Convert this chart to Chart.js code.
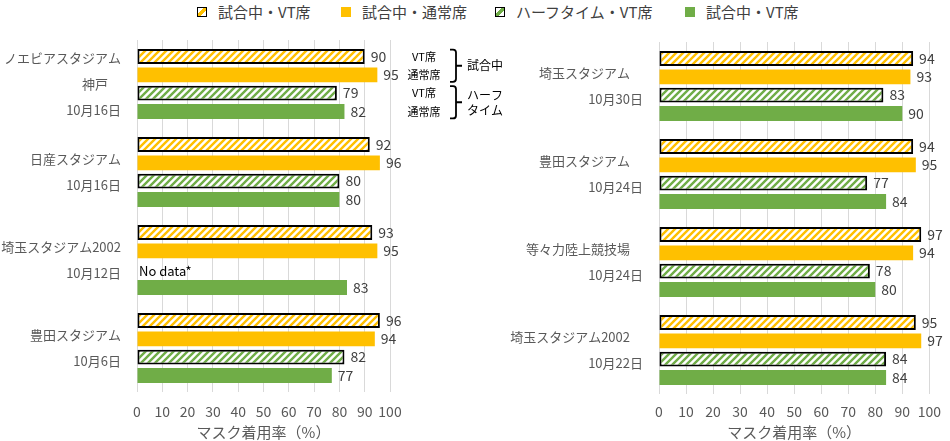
<!DOCTYPE html>
<html>
<head>
<meta charset="utf-8">
<script src="https://cdn.jsdelivr.net/npm/chart.js@4.4.1/dist/chart.umd.min.js"></script>
<style>
body { margin: 0; background: #fff; }
#wrap { position: relative; width: 950px; height: 441px; background: #fff; overflow: hidden; }
.lg { position: absolute; top: 2px; height: 20px; font: 15px "Noto Sans CJK JP", "Noto Sans", sans-serif; color: #404040; white-space: nowrap; line-height: 20px; }
.lg i { position: absolute; left: 0; top: 5px; width: 10px; height: 10px; box-sizing: border-box; }
.lg span { position: absolute; left: 21px; top: 0; }
</style>
</head>
<body>
<div id="wrap">
  <div class="lg" style="left:197px"><i style="border:1.5px solid #000;background:linear-gradient(135deg,#fff 32%,#FFC000 32%,#FFC000 68%,#fff 68%)"></i><span>試合中・VT席</span></div>
  <div class="lg" style="left:341px"><i style="background:#FFC000"></i><span>試合中・通常席</span></div>
  <div class="lg" style="left:495px"><i style="border:1.5px solid #000;background:linear-gradient(135deg,#fff 32%,#70AD47 32%,#70AD47 68%,#fff 68%)"></i><span>ハーフタイム・VT席</span></div>
  <div class="lg" style="left:685px"><i style="background:#70AD47"></i><span>試合中・VT席</span></div>
  <canvas id="left" width="505" height="441" style="position:absolute;left:0;top:0"></canvas>
  <canvas id="right" width="445" height="441" style="position:absolute;left:505px;top:0"></canvas>
</div>
<script>
// left panel
var leftLabels = [['ノエビアスタジアム', '神戸　', '10月16日'], ['日産スタジアム', '10月16日'], ['埼玉スタジアム2002', '10月12日'], ['豊田スタジアム', '10月6日']];
var leftVtGame = [90, 92, 93, 96];
var leftRegGame = [95, 96, 95, 94];
var leftVtHalf = [79, 80, null, 82];
var leftRegHalf = [82, 80, 83, 77];

// right panel
var rightLabels = [['埼玉スタジアム　', '10月30日'], ['豊田スタジアム　', '10月24日'], ['等々力陸上競技場　', '10月24日'], ['埼玉スタジアム2002　', '10月22日']];
var rightVtGame = [94, 94, 97, 95];
var rightRegGame = [93, 95, 94, 97];
var rightVtHalf = [83, 77, 78, 84];
var rightRegHalf = [90, 84, 80, 84];

var seriesNames = ['試合中・VT席', '試合中・通常席', 'ハーフタイム・VT席', '試合中・VT席'];
var axisTitle = 'マスク着用率（%）';

var FONT = '"Noto Sans CJK JP", "Noto Sans", sans-serif';
Chart.defaults.font.family = FONT;
var YELLOW = '#FFC000';
var GREEN = '#70AD47';

function hatch(color) {
    var s = 7;
    var c = document.createElement('canvas');
    c.width = s; c.height = s;
    var x = c.getContext('2d');
    x.fillStyle = '#fff';
    x.fillRect(0, 0, s, s);
    x.strokeStyle = color;
    x.lineWidth = 2.4;
    x.beginPath();
    x.moveTo(-1, s + 1); x.lineTo(s + 1, -1);
    x.moveTo(-s - 1, s + 1); x.lineTo(1, -1);
    x.moveTo(-1, 2 * s + 1); x.lineTo(2 * s + 1, -1);
    x.stroke();
    return x.createPattern(c, 'repeat');
}

var valueLabels = {
    id: 'valueLabels',
    afterDatasetsDraw: function(chart) {
        var ctx = chart.ctx;
        ctx.save();
        ctx.textBaseline = 'middle';
        ctx.textAlign = 'left';
        chart.data.datasets.forEach(function(ds, i) {
            chart.getDatasetMeta(i).data.forEach(function(bar, j) {
                var v = ds.data[j];
                if (v === null) {
                    ctx.font = '13px ' + FONT;
                    ctx.fillStyle = '#000';
                    ctx.fillText('No data*', chart.scales.x.getPixelForValue(0) + 2, bar.y + 2);
                } else {
                    ctx.font = '14px ' + FONT;
                    ctx.fillStyle = '#404040';
                    ctx.fillText(v, bar.x + 6, bar.y);
                }
            });
        });
        ctx.restore();
    }
};

// 右側の凡例（VT席/通常席 と 試合中/ハーフタイム）
var seatNote = {
    id: 'seatNote',
    afterDraw: function(chart) {
        var ctx = chart.ctx;
        var ys = [0, 1, 2, 3].map(function(i) { return chart.getDatasetMeta(i).data[0].y; });
        ctx.save();
        ctx.fillStyle = '#000';
        ctx.textBaseline = 'middle';
        ctx.textAlign = 'center';
        ctx.font = '11px ' + FONT;
        ctx.fillText('VT席', 424, ys[0]);
        ctx.fillText('通常席', 424, ys[1]);
        ctx.fillText('VT席', 424, ys[2]);
        ctx.fillText('通常席', 424, ys[3]);
        ctx.strokeStyle = '#000';
        ctx.lineWidth = 1.8;
        function brace(y1, y2) {
            var m = (y1 + y2) / 2;
            ctx.beginPath();
            ctx.moveTo(450, y1);
            ctx.arcTo(456, y1, 456, y1 + 6, 3);
            ctx.lineTo(456, y2 - 3);
            ctx.arcTo(456, y2, 450, y2, 3);
            ctx.lineTo(450, y2);
            ctx.moveTo(456, m);
            ctx.lineTo(462, m);
            ctx.stroke();
            return m;
        }
        var m1 = brace(ys[0] - 7, ys[1] + 7);
        var m2 = brace(ys[2] - 7, ys[3] + 7);
        ctx.textAlign = 'left';
        ctx.font = '12px ' + FONT;
        ctx.fillText('試合中', 467, m1);
        ctx.fillText('ハーフ', 467, m2 - 7);
        ctx.fillText('タイム', 467, m2 + 8);
        ctx.restore();
    }
};

function makeChart(id, labels, vals, box, plugins) {
    var ctx = document.getElementById(id).getContext('2d');
    return new Chart(ctx, {
        type: 'bar',
        data: {
            labels: labels,
            datasets: [
                { label: seriesNames[0], data: vals[0], backgroundColor: hatch(YELLOW), borderColor: '#000', borderWidth: 2, borderSkipped: false },
                { label: seriesNames[1], data: vals[1], backgroundColor: YELLOW, borderWidth: 0 },
                { label: seriesNames[2], data: vals[2], backgroundColor: hatch(GREEN), borderColor: '#000', borderWidth: 2, borderSkipped: false },
                { label: seriesNames[3], data: vals[3], backgroundColor: GREEN, borderWidth: 0 }
            ]
        },
        options: {
            indexAxis: 'y',
            responsive: false,
            animation: false,
            categoryPercentage: 0.83,
            barPercentage: 0.82,
            layout: { padding: { top: box.top, right: box.right, bottom: 0, left: 0 } },
            plugins: {
                legend: { display: false },
                tooltip: { enabled: false }
            },
            scales: {
                x: {
                    min: 0,
                    max: 100,
                    ticks: { stepSize: 10, color: '#595959', font: { size: 14 }, padding: box.tickPad, maxRotation: 0, minRotation: 0, autoSkip: false },
                    grid: { color: '#D9D9D9', drawTicks: false },
                    border: { display: false },
                    title: { display: true, text: axisTitle, color: '#595959', font: { size: 15 }, padding: { top: 0, bottom: 0 } },
                    afterFit: function(scale) { scale.height = box.xh; }
                },
                y: {
                    ticks: { color: '#595959', font: { size: 13, lineHeight: 2 }, padding: 16, autoSkip: false },
                    grid: { display: false, drawTicks: false },
                    border: { display: false },
                    afterFit: function(scale) {
                        scale.width = box.yw;
                        scale.paddingTop = 0;
                        scale.paddingBottom = 0;
                    }
                }
            }
        },
        plugins: plugins
    });
}

makeChart('left', leftLabels, [leftVtGame, leftRegGame, leftVtHalf, leftRegHalf],
    { top: 40, right: 115, xh: 49, yw: 137, tickPad: 11 }, [valueLabels, seatNote]);
makeChart('right', rightLabels, [rightVtGame, rightRegGame, rightVtHalf, rightRegHalf],
    { top: 42, right: 14, xh: 47, yw: 154, tickPad: 9 }, [valueLabels]);
</script>
</body>
</html>
